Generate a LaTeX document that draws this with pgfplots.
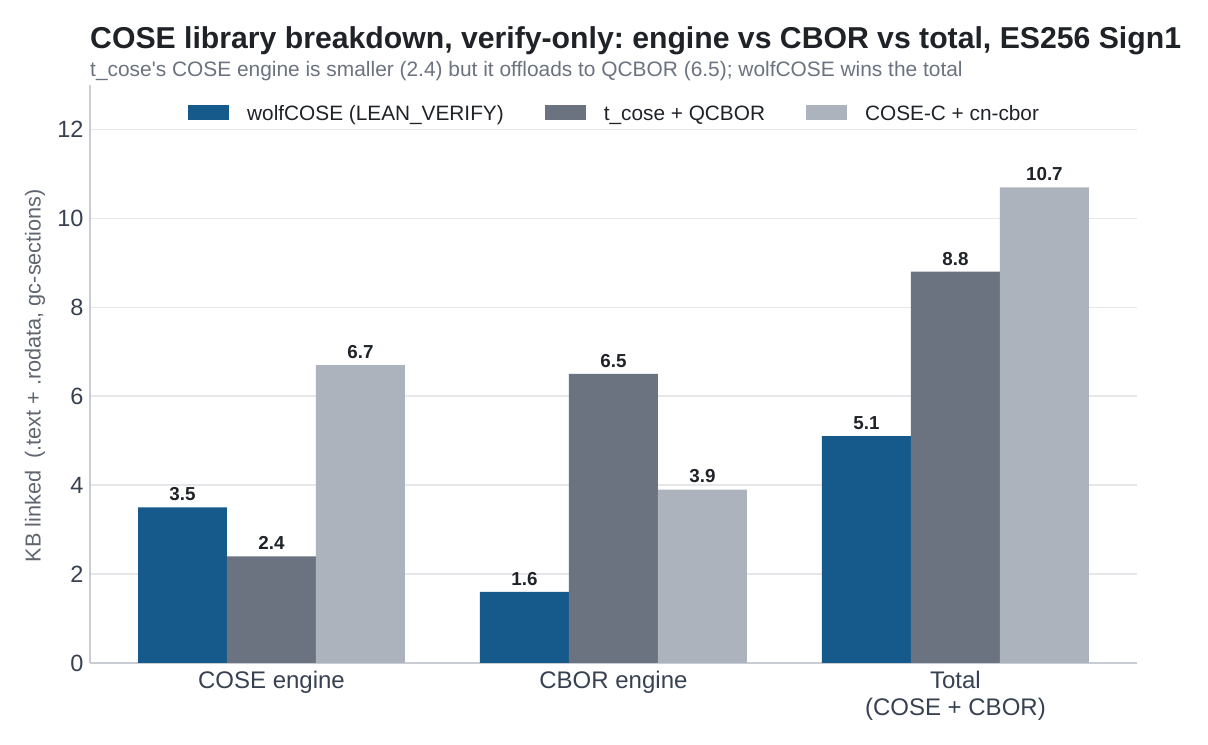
\documentclass[border=0pt]{standalone}
\usepackage{pgfplots}
\pgfplotsset{compat=1.18}
\usepackage{fontspec}
\setmainfont{Liberation Sans}
\frenchspacing
\definecolor{cWolf}{HTML}{155A8A}
\definecolor{cTcose}{HTML}{6B7280}
\definecolor{cCosec}{HTML}{ADB3BC}
\definecolor{cGrid}{HTML}{E5E7EB}
\definecolor{cSpine}{HTML}{C9CDD3}
\definecolor{cTick}{HTML}{374151}
\definecolor{cTitle}{HTML}{1F2328}
\definecolor{cSub}{HTML}{6B7280}
\definecolor{cYlab}{HTML}{5F6670}
\begin{document}
\begin{tikzpicture}
\useasboundingbox (0,0) rectangle (1208bp,745bp);
\node[anchor=base west, font=\fontsize{30.2bp}{34bp}\selectfont\bfseries, text=cTitle, inner sep=0] at (90bp,696.5bp) {COSE library breakdown, verify-only: engine vs CBOR vs total, ES256 Sign1};
\node[anchor=base west, font=\fontsize{20.9bp}{24bp}\selectfont, text=cSub, inner sep=0] at (90bp,668.3bp) {t\_cose\textquotesingle s COSE engine is smaller (2.4) but it offloads to QCBOR (6.5); wolfCOSE wins the total};
\begin{axis}[
  at={(90bp,82bp)}, anchor=south west,
  scale only axis, width=1047bp, height=578bp,
  xmin=-0.5307, xmax=2.531, ymin=0, ymax=13,
  ybar, bar width=0.2602,
  axis lines*=left,
  axis line style={cSpine, line width=1.5bp},
  major tick length=0,
  xtick={0,1,2},
  xticklabels={COSE engine, CBOR engine, {Total\\(COSE + CBOR)}},
  xticklabel style={align=center, font=\fontsize{24bp}{26.5bp}\selectfont, text=cTick, yshift=-5bp},
  ytick={0,2,4,6,8,10,12},
  yticklabel style={font=\fontsize{23.5bp}{26bp}\selectfont, text=cTick, xshift=-3bp},
  ymajorgrids, grid style={cGrid, line width=1.5bp},
  ylabel={KB linked\ \ (.text + .rodata, gc-sections)},
  ylabel style={at={(axis description cs:-0.0525,0.497)}, anchor=center, font=\fontsize{21.7bp}{24bp}\selectfont, text=cYlab},
  /pgf/number format/assume math mode=true,
  nodes near coords,
  nodes near coords style={font=\fontsize{18.8bp}{22bp}\selectfont\bfseries, text=cTitle, yshift=3bp, /pgf/number format/.cd, fixed, precision=1, fixed zerofill, assume math mode=true},
  legend columns=3,
  legend style={at={(axis description cs:0.0936,0.951)}, anchor=west, draw=none, fill=none, inner sep=0,
    font=\fontsize{20.8bp}{24bp}\selectfont, text=cTitle,
    /tikz/every odd column/.append style={column sep=18bp},
    /tikz/every even column/.append style={column sep=41bp},
    nodes={inner sep=0, anchor=base west}},
]
\addplot[fill=cWolf, draw=none, bar shift=-0.2602, legend image code/.code={\fill[cWolf] (0bp,0bp) rectangle (41bp,15bp);}] coordinates {(0,3.5) (1,1.6) (2,5.1)};
\addlegendentry{wolfCOSE (LEAN\_VERIFY)}
\addplot[fill=cTcose, draw=none, bar shift=0, legend image code/.code={\fill[cTcose] (0bp,0bp) rectangle (41bp,15bp);}] coordinates {(0,2.4) (1,6.5) (2,8.8)};
\addlegendentry{t\_cose + QCBOR}
\addplot[fill=cCosec, draw=none, bar shift=0.2602, legend image code/.code={\fill[cCosec] (0bp,0bp) rectangle (41bp,15bp);}] coordinates {(0,6.7) (1,3.9) (2,10.7)};
\addlegendentry{COSE-C + cn-cbor}
\end{axis}
\end{tikzpicture}
\end{document}
